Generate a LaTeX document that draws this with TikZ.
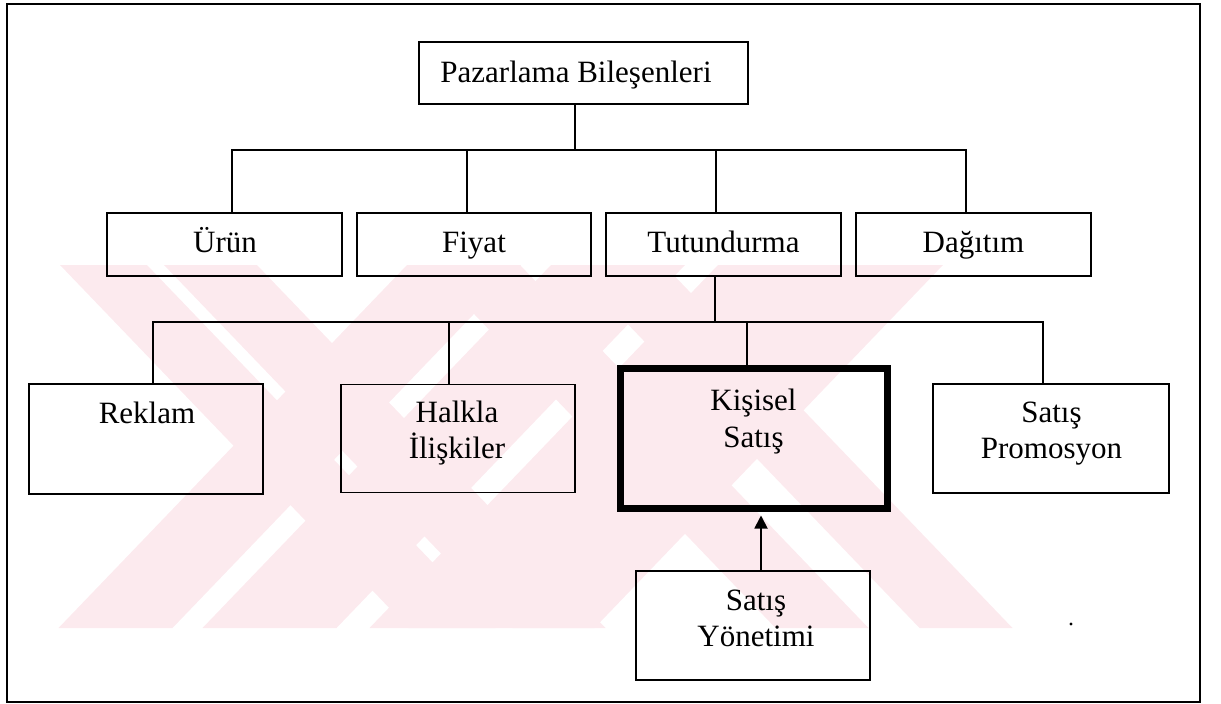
\documentclass[tikz,border=0pt]{standalone}
\usepackage{fontspec}
\setmainfont{Liberation Serif}
\usetikzlibrary{arrows.meta}
\definecolor{wmpink}{RGB}{252,234,238}
\begin{document}
\begin{tikzpicture}[x=1pt,y=-1pt,
  box/.style={draw, line width=1.8pt, rectangle, inner sep=0pt},
  keybox/.style={draw, line width=7pt, rectangle, inner sep=0pt},
  lbl/.style={anchor=base, inner sep=0pt, font=\fontsize{31}{36}\selectfont},
  link/.style={line width=1.8pt},
  feed/.style={line width=1.8pt, -{Triangle[length=13pt,width=13pt]}, shorten >=3.5pt},
  wm/.style={fill=wmpink, draw=none}
]
\useasboundingbox (0,0) rectangle (1221,704);

% pale background emblem: crossing diagonal bands
\begin{scope}
  \clip (0,265) rectangle (1221,628);
  % bands falling to the right
  \foreach \a/\b in {60/147, 164/257, 427/520, 571/664}
    \path[wm] (\a,265) -- (\b,265) -- (\b+348.5,628) -- (\a+348.5,628) -- cycle;
  % bands falling to the left
  \foreach \a/\b in {407/521, 551/685, 718/943}
    \path[wm] (\a,265) -- (\b,265) -- (\b-348.5,628) -- (\a-348.5,628) -- cycle;
\end{scope}

% outer frame
\draw[line width=1.8pt] (7,4) rectangle (1200,702);

% top level
\node[box, minimum width=329pt, minimum height=62pt] (top) at (583.5,73) {};
\node[lbl] (topT) at (576,82) {Pazarlama Bileşenleri};

% marketing mix elements
\node[box, minimum width=235pt, minimum height=63pt] (urun) at (224.5,244.5) {};
\node[box, minimum width=234pt, minimum height=63pt] (fiyat) at (474,244.5) {};
\node[box, minimum width=235pt, minimum height=63pt] (tut) at (723.5,244.5) {};
\node[box, minimum width=235pt, minimum height=63pt] (dag) at (973.5,244.5) {};
\node[lbl] (urunT) at (225,252) {Ürün};
\node[lbl] (fiyatT) at (474,252) {Fiyat};
\node[lbl] (tutT) at (723.5,252) {Tutundurma};
\node[lbl] (dagT) at (973.5,252) {Dağıtım};

% promotion elements
\node[box, minimum width=234pt, minimum height=110pt] (rek) at (146,439) {};
\node[box, minimum width=234pt, minimum height=108pt] (halk) at (458,438.5) {};
\node[keybox, minimum width=267pt, minimum height=140pt] (kis) at (754,438.5) {};
\node[box, minimum width=236pt, minimum height=109pt] (promo) at (1051,438.5) {};
\node[lbl] (rekT) at (147,423) {Reklam};
\node[lbl] (halkT1) at (457,422) {Halkla};
\node[lbl] (halkT2) at (457,458) {İlişkiler};
\node[lbl] (kisT1) at (753.5,410) {Kişisel};
\node[lbl] (kisT2) at (753.5,447) {Satış};
\node[lbl] (promoT1) at (1051.5,422) {Satış};
\node[lbl] (promoT2) at (1051.5,458) {Promosyon};

% sales management
\node[box, minimum width=234pt, minimum height=109pt] (yon) at (753,625.5) {};
\node[lbl] (yonT1) at (756,610) {Satış};
\node[lbl] (yonT2) at (756,646) {Yönetimi};

% tree connectors
\coordinate (hub1) at (575,150);
\draw[link] ([xshift=-8.5pt]top.south) -- (hub1);
\draw[link] ([xshift=7.5pt]urun.north) |- (hub1);
\draw[link] ([xshift=-7pt]fiyat.north) |- (hub1);
\draw[link] ([xshift=-7.5pt]tut.north) |- (hub1);
\draw[link] ([xshift=-7.5pt]dag.north) |- (hub1);

\coordinate (hub2) at (715,322);
\draw[link] ([xshift=-8.5pt]tut.south) -- (hub2);
\draw[link] ([xshift=7pt]rek.north) |- (hub2);
\draw[link] ([xshift=-9pt]halk.north) |- (hub2);
\draw[link] ([xshift=-7pt]kis.north) |- (hub2);
\draw[link] ([xshift=-8pt]promo.north) |- (hub2);

% sales management feeds personal selling
\draw[feed] ([xshift=8pt]yon.north) -- ([xshift=7pt]kis.south);

% small speck
\fill (1071,624) circle (1.6pt);
\end{tikzpicture}
\end{document}
